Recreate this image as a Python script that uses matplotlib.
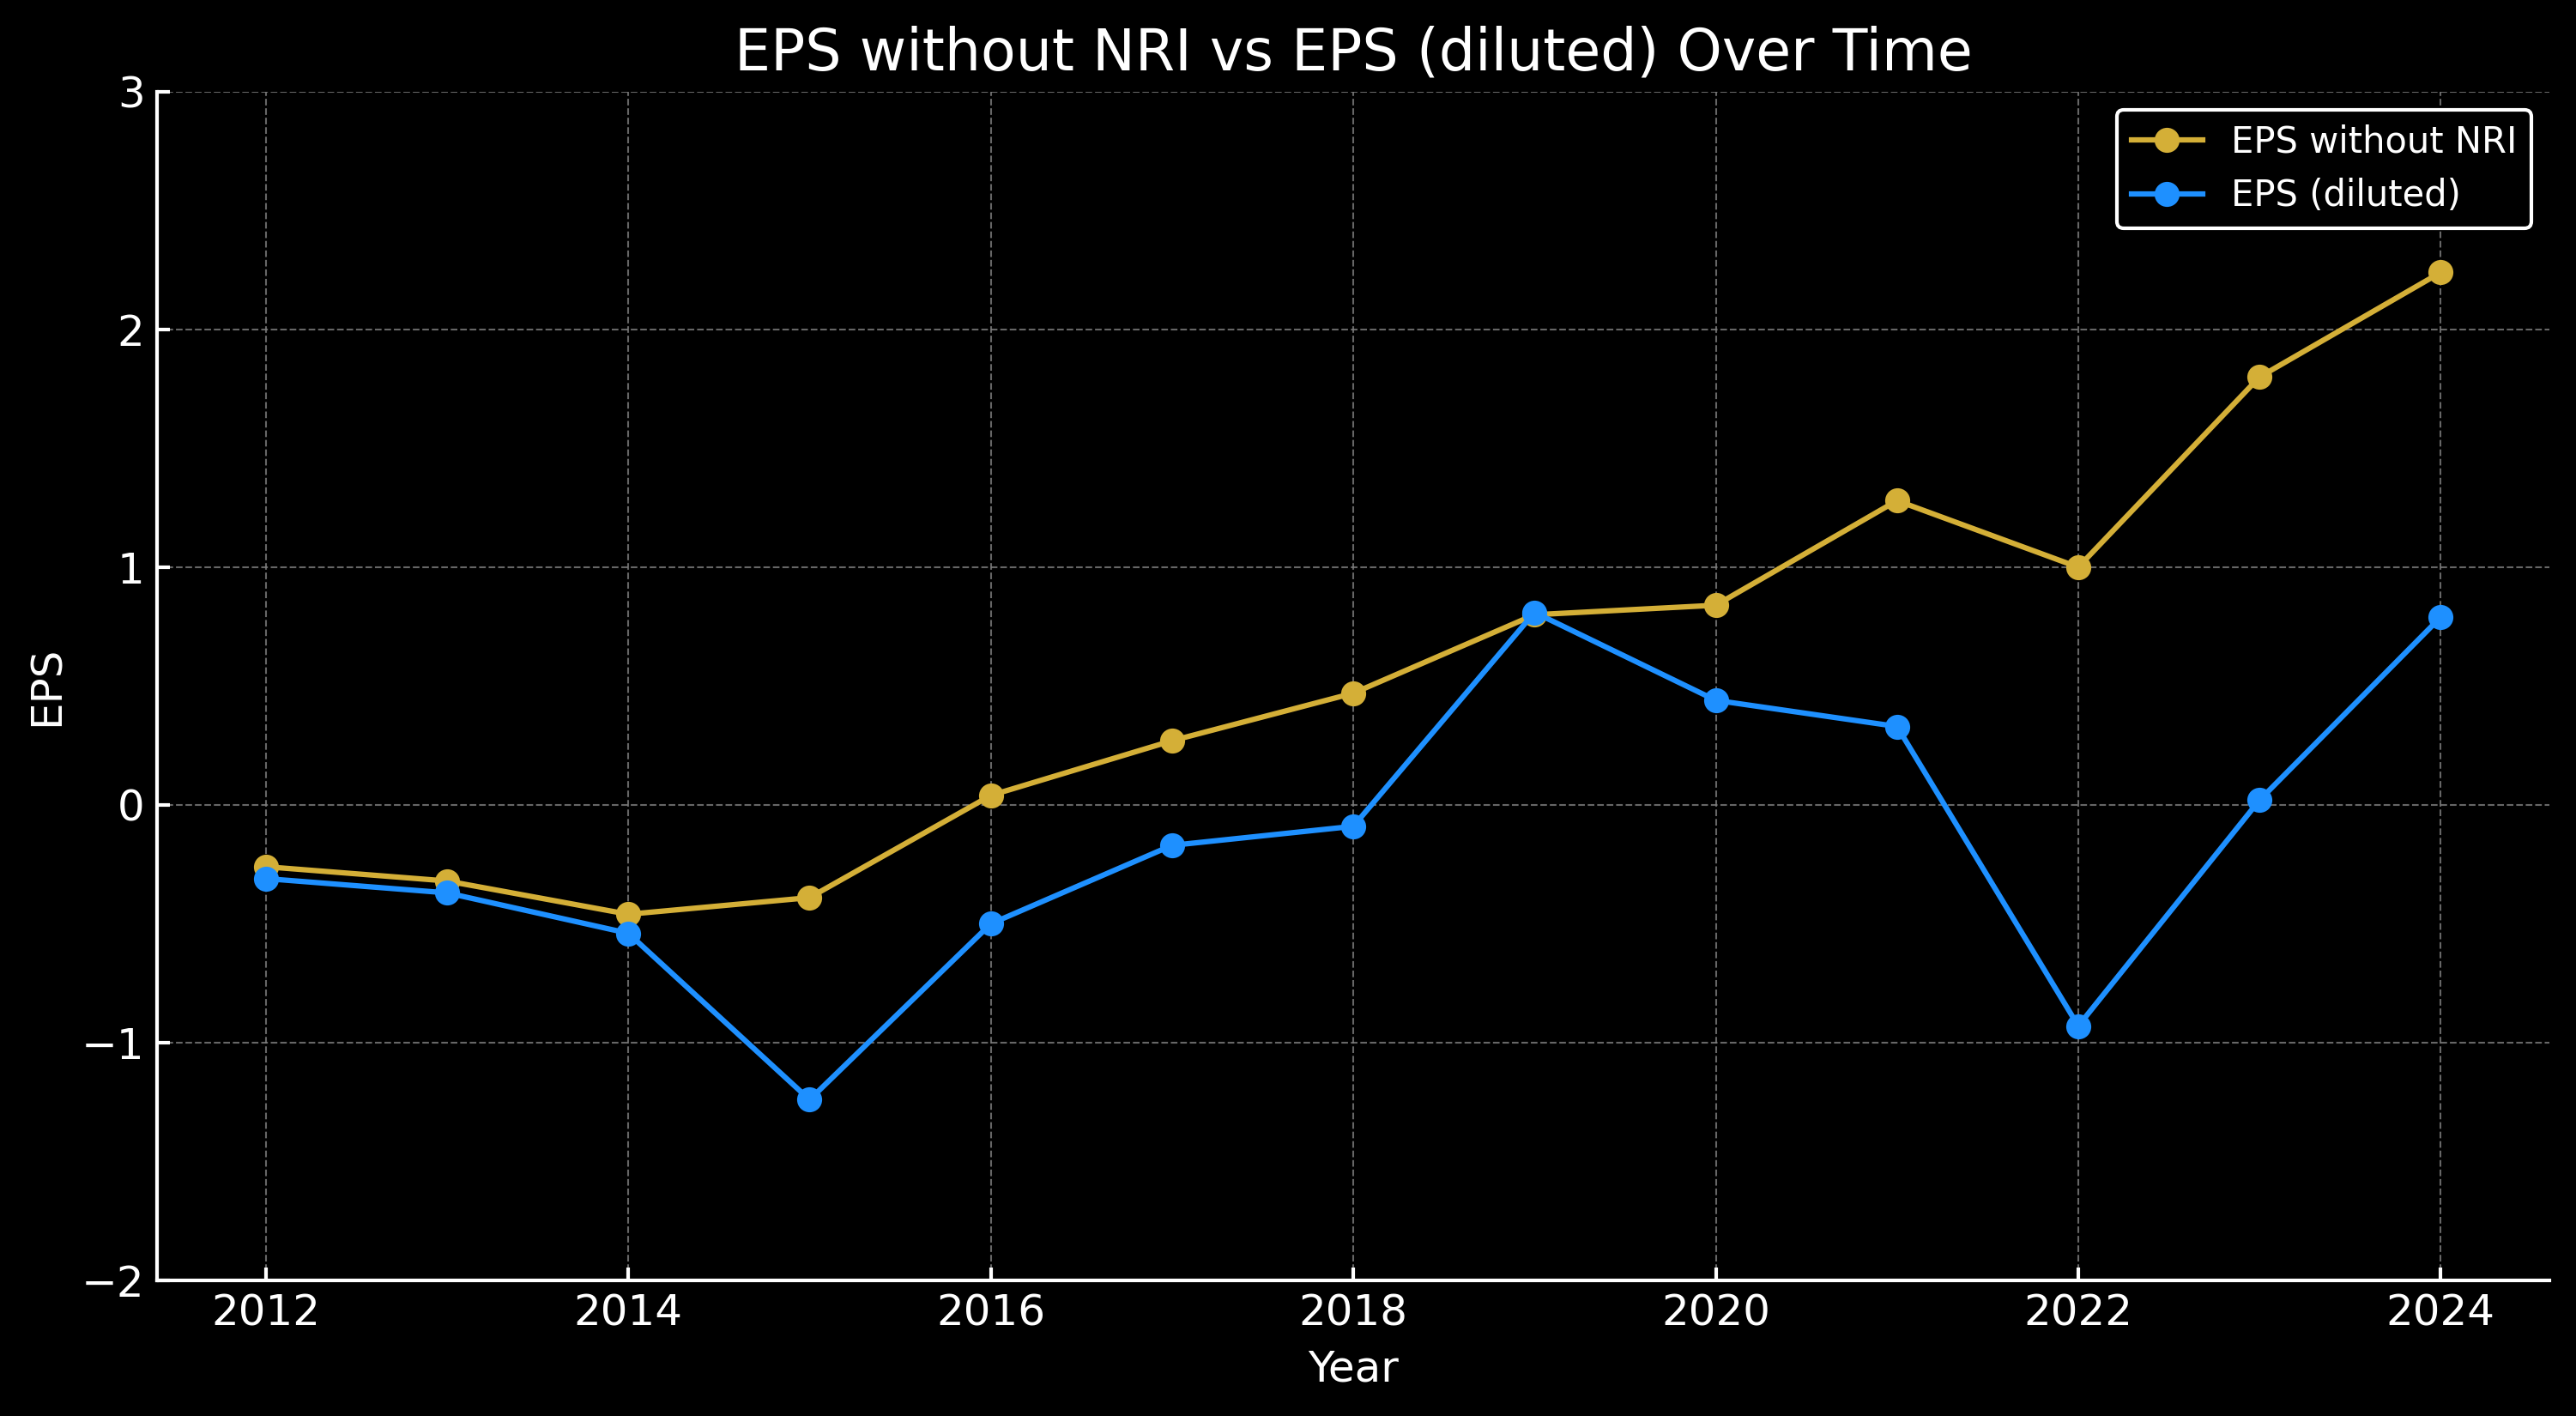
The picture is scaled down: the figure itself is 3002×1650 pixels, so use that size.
import matplotlib
matplotlib.use("Agg")
import matplotlib.pyplot as plt

years = [2012, 2013, 2014, 2015, 2016, 2017, 2018, 2019, 2020, 2021, 2022, 2023, 2024]
eps_without_nri = [-0.26, -0.32, -0.46, -0.39, 0.04, 0.27, 0.47, 0.80, 0.84, 1.28, 1.00, 1.80, 2.24]
eps_diluted = [-0.31, -0.37, -0.54, -1.24, -0.50, -0.17, -0.09, 0.81, 0.44, 0.33, -0.93, 0.02, 0.79]

series_labels = ["EPS without NRI", "EPS (diluted)"]
series_colors = ["#D4AF37", "#1E90FF"]
x_ticks = [2012, 2014, 2016, 2018, 2020, 2022, 2024]
y_ticks = [-2, -1, 0, 1, 2, 3]

plt.style.use("dark_background")
plt.rcParams['font.family'] = ['DejaVu Sans']

fig, ax = plt.subplots(figsize=(3002 / 300, 1650 / 300), dpi=300)
fig.subplots_adjust(left=0.061, right=0.9897, top=0.9352, bottom=0.0958)

ax.plot(years, eps_without_nri, marker='o', color=series_colors[0], linewidth=1.5,
        markersize=6, label=series_labels[0])
ax.plot(years, eps_diluted, marker='o', color=series_colors[1], linewidth=1.5,
        markersize=6, label=series_labels[1])

ax.set_title("EPS without NRI vs EPS (diluted) Over Time", fontsize=16)
ax.set_xlabel("Year", fontsize=12)
ax.set_ylabel("EPS", fontsize=12)
ax.set_xticks(x_ticks)
ax.set_yticks(y_ticks)
ax.set_ylim(-2, 3)
ax.tick_params(axis='both', labelsize=12, direction='in', length=3.5, width=1.0)

ax.spines['top'].set_visible(False)
ax.spines['right'].set_visible(False)
ax.spines['left'].set_linewidth(1.0)
ax.spines['bottom'].set_linewidth(1.0)

ax.grid(True, linestyle='--', linewidth=0.5, color='gray', alpha=0.8)

leg = ax.legend(loc='upper right', fontsize=10, facecolor='black', edgecolor='white',
                framealpha=1.0)
leg.get_frame().set_linewidth(1.0)

fig.savefig("out.png", dpi=300, facecolor='black')
